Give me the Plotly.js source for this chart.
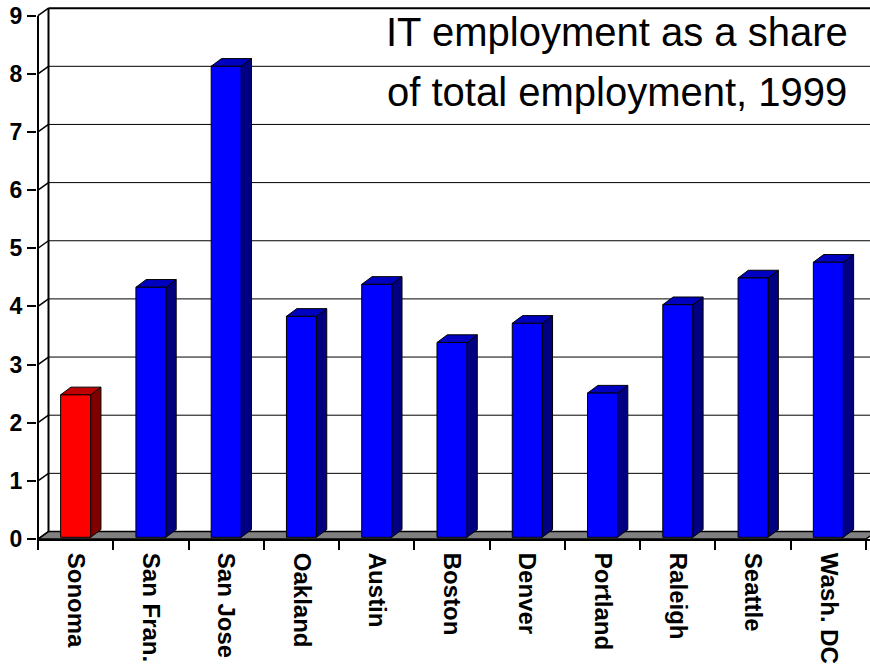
<!DOCTYPE html>
<html>
<head>
<meta charset="utf-8">
<script src="https://cdn.plot.ly/plotly-3.0.1.min.js"></script>
<style>
  html, body { margin: 0; padding: 0; background: #fff; }
  #chart { width: 870px; height: 666px; }
</style>
</head>
<body>
<div id="chart"></div>
<script>
// ---- data ----
const cities = ['Sonoma', 'San Fran.', 'San Jose', 'Oakland', 'Austin', 'Boston',
                'Denver', 'Portland', 'Raleigh', 'Seattle', 'Wash. DC'];
const itShare = [2.45, 4.3, 8.1, 3.8, 4.35, 3.35, 3.68, 2.48, 4.0, 4.46, 4.73];
const yTickVals = [0, 1, 2, 3, 4, 5, 6, 7, 8, 9];
const highlightCity = 'Sonoma';
const titleLines = ['IT employment as a share', 'of total employment, 1999'];

// ---- geometry (pixel sizes converted to axis units) ----
const W = 870, H = 666;
const CAT_PX = 75.27, UNIT_PX = 58.15;
const M = { l: 37, r: 0, t: 6, b: 127 };
const plotW = W - M.l - M.r, plotH = H - M.t - M.b;
const xMin = -0.5 - 1 / CAT_PX, xMax = xMin + plotW / CAT_PX;
const yMin = 0, yMax = plotH / UNIT_PX;
const yTop = yTickVals[yTickVals.length - 1];
const n = cities.length;
const xL = -0.5, xR = n - 0.5;

const WDX = 10.5 / CAT_PX, WDY = 7.5 / UNIT_PX;      // wall depth
const FY = 1.7 / UNIT_PX;                            // bar front plane offset
const BW = 15 / CAT_PX;                              // bar half width
const BDX = 10.3 / CAT_PX, BDY = 7.7 / UNIT_PX;      // bar depth

const traces = [];
const base = { type: 'scatter', mode: 'lines', hoverinfo: 'skip', showlegend: false };

// floor
traces.push(Object.assign({}, base, {
  x: [xL, xR, xR + WDX, xL + WDX, xL],
  y: [0, 0, WDY, WDY, 0],
  fill: 'toself', fillcolor: '#808080',
  line: { color: '#000', width: 1.5 }
}));

// back-wall gridlines
const gx = [], gy = [];
yTickVals.forEach(v => {
  if (v > 0 && v < yTop) { gx.push(xL + WDX, xR + WDX + 1, null); gy.push(v + WDY, v + WDY, null); }
});
traces.push(Object.assign({}, base, { x: gx, y: gy, line: { color: '#000', width: 1 } }));

// top edge of back wall
traces.push(Object.assign({}, base, {
  x: [xL + WDX, xR + WDX + 1], y: [yTop + WDY, yTop + WDY],
  line: { color: '#000', width: 2 }
}));

// side-wall connectors at each tick
const cx = [], cy = [];
yTickVals.forEach(v => { cx.push(xL, xL + WDX, null); cy.push(v, v + WDY, null); });
traces.push(Object.assign({}, base, { x: cx, y: cy, line: { color: '#000', width: 1.5 } }));

// back wall vertical edge and front axis line
traces.push(Object.assign({}, base, {
  x: [xL + WDX, xL + WDX], y: [WDY, yTop + WDY], line: { color: '#000', width: 2 }
}));
traces.push(Object.assign({}, base, {
  x: [xL, xL], y: [0, yTop], line: { color: '#000', width: 2 }
}));

// 3D bars
cities.forEach((c, i) => {
  const v = itShare[i];
  const hi = c === highlightCity;
  const front = hi ? '#FF0000' : '#0000FF';
  const side = hi ? '#800000' : '#000080';
  const top = hi ? '#C00000' : '#0000C0';
  const x0 = i - BW, x1 = i + BW, b = FY, t = v + FY;
  const ln = { color: '#000', width: 1 };
  traces.push(Object.assign({}, base, {
    x: [x1, x1 + BDX, x1 + BDX, x1, x1], y: [b, b + BDY, t + BDY, t, b],
    fill: 'toself', fillcolor: side, line: ln
  }));
  traces.push(Object.assign({}, base, {
    x: [x0, x1, x1 + BDX, x0 + BDX, x0], y: [t, t, t + BDY, t + BDY, t],
    fill: 'toself', fillcolor: top, line: ln
  }));
  traces.push(Object.assign({}, base, {
    x: [x0, x1, x1, x0, x0], y: [b, b, t, t, b],
    fill: 'toself', fillcolor: front, line: ln,
    name: c, text: [v], hoverinfo: 'skip'
  }));
});

const boundaries = [];
for (let k = 0; k <= n; k++) boundaries.push(k - 0.5);

const labelFont = { family: 'Liberation Sans, Arial, sans-serif', size: 24, color: '#000', weight: 'bold' };

const layout = {
  width: W, height: H,
  margin: M,
  paper_bgcolor: '#fff', plot_bgcolor: '#fff',
  showlegend: false,
  xaxis: {
    range: [xMin, xMax], fixedrange: true,
    tickmode: 'array', tickvals: cities.map((c, i) => i), ticktext: cities,
    tickangle: 90, ticks: '', ticklabelstandoff: 7,
    tickfont: labelFont,
    minor: { tickmode: 'array', tickvals: boundaries, ticks: 'outside', ticklen: 9, tickwidth: 2, tickcolor: '#000', showgrid: false },
    showgrid: false, zeroline: false,
    showline: true, linecolor: '#000', linewidth: 2
  },
  yaxis: {
    range: [yMin, yMax], fixedrange: true,
    tickmode: 'array', tickvals: yTickVals,
    ticks: 'outside', ticklen: 9, tickwidth: 2, tickcolor: '#000',
    tickfont: { family: 'Liberation Sans, Arial, sans-serif', size: 23, color: '#000', weight: 'bold' },
    showgrid: false, zeroline: false, showline: false
  },
  annotations: titleLines.map((t, j) => ({
    text: t, xref: 'paper', yref: 'paper',
    x: (617 - M.l) / plotW, y: (H - M.b - (32.4 + 60 * j)) / plotH,
    xanchor: 'center', yanchor: 'middle', showarrow: false,
    font: { family: 'Liberation Sans, Arial, sans-serif', size: 40, color: '#000' }
  }))
};

Plotly.newPlot('chart', traces, layout, { staticPlot: true, displayModeBar: false });
</script>
</body>
</html>
